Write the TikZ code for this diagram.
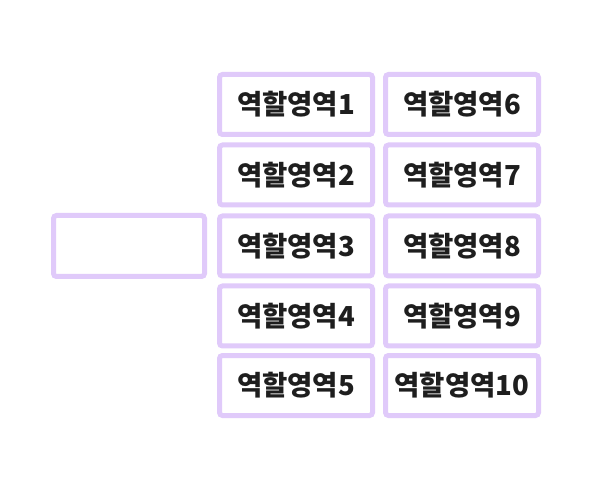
\documentclass[tikz,border=0pt]{standalone}
\usepackage{fontspec}
\newfontfamily\kr{Noto Sans CJK KR}
\definecolor{boxline}{RGB}{224,202,250}
\definecolor{txt}{RGB}{30,30,30}
\begin{document}
\begin{tikzpicture}[x=1pt,y=-1pt,
  rolebox/.style={draw=boxline,line width=5pt,fill=white,rounded corners=3pt,
    minimum width=153pt,minimum height=60pt,inner sep=0pt,
    font=\kr\bfseries\fontsize{27.5}{32}\selectfont,text=txt}]
\useasboundingbox (0,0) rectangle (590,492);
\node[rolebox,minimum width=151pt,minimum height=61pt] (root) at (129,246) {};
\node[rolebox] (r1) at (296,104.5) {역할영역1};
\node[rolebox] (r2) at (296,175) {역할영역2};
\node[rolebox] (r3) at (296,246) {역할영역3};
\node[rolebox] (r4) at (296,316) {역할영역4};
\node[rolebox] (r5) at (296,385.5) {역할영역5};
\node[rolebox] (r6) at (462,104.5) {역할영역6};
\node[rolebox] (r7) at (462,175) {역할영역7};
\node[rolebox] (r8) at (462,246) {역할영역8};
\node[rolebox] (r9) at (462,316) {역할영역9};
\node[rolebox] (r10) at (462,385.5) {역할영역10};
\end{tikzpicture}
\end{document}
